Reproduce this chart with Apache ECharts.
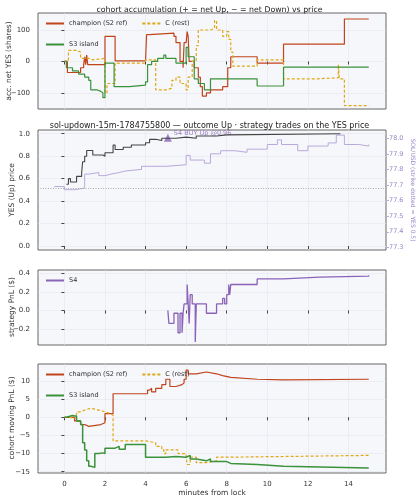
<!DOCTYPE html>
<html>
<head>
<meta charset="utf-8">
<script src="https://cdn.jsdelivr.net/npm/echarts@6/dist/echarts.min.js"></script>
<style>
  html, body { margin: 0; padding: 0; background: #fff; }
  #chart { width: 419px; height: 500px; }
</style>
</head>
<body>
<div id="chart"></div>
<script>
// [minutes from lock, value] step points
const accChampion = [[0,0],[0.15,-35],[0.7,-35],[0.8,-20],[0.95,-10],[1.0,15],[1.05,-10],[1.1,20],[1.15,-10],[2.0,-10],[2.0,80],[2.5,80],[2.5,2],[4.0,5],[4.05,85],[4.2,90],[5.4,90],[5.4,80],[5.5,60],[5.7,0],[5.85,-20],[5.9,60],[6.0,60],[6.05,95],[6.1,80],[6.15,0],[6.4,-20],[6.6,-50],[6.7,-80],[6.8,-110],[7.0,-100],[7.2,-90],[7.8,-80],[8.05,-80],[8.05,-20],[8.2,15],[9.5,15],[9.5,-5],[10.8,-5],[10.8,55],[13.8,55],[13.8,135],[15,135]];
const accS3 = [[0,0],[0.1,-20],[0.4,-30],[0.7,-40],[1.0,-50],[1.2,-60],[1.3,-90],[1.6,-95],[1.8,-100],[1.9,-115],[2.0,-5],[2.45,-5],[2.45,-80],[3.0,-80],[3.2,-75],[4.0,-65],[4.1,-10],[4.3,0],[4.6,10],[4.9,20],[5.0,10],[5.5,-5],[6.0,45],[6.1,15],[6.4,15],[6.4,-55],[6.6,-70],[6.9,-90],[7.2,-55],[9.5,-55],[9.5,-78],[10.8,-78],[10.8,-18],[15,-18]];
const accC = [[0,0],[0.2,35],[0.6,30],[0.8,10],[1.2,5],[1.4,10],[2.0,10],[2.0,-100],[2.1,-70],[2.5,-5],[4.0,5],[4.5,-90],[5.0,-85],[5.3,-60],[5.5,-50],[5.7,-70],[6.0,-90],[6.1,-50],[6.3,0],[6.5,50],[6.6,100],[7.2,105],[7.4,130],[7.5,100],[7.8,80],[8.0,95],[8.1,70],[8.2,30],[8.3,-15],[9.5,-15],[9.5,5],[10.8,5],[10.8,-55],[12.5,-52],[13.5,-55],[13.5,-10],[13.55,-55],[13.8,-55],[13.8,-140],[15,-140]];

const yesPrice = [[0.1,0.55],[0.2,0.6],[0.3,0.57],[0.6,0.62],[0.85,0.65],[0.9,0.75],[1.0,0.8],[1.1,0.85],[1.4,0.81],[1.9,0.8],[2.0,0.83],[2.4,0.9],[2.5,0.86],[2.9,0.88],[3.3,0.9],[4.0,0.92],[4.2,0.95],[4.5,0.94],[4.8,0.96],[5.5,0.97],[6.0,0.96],[6.5,0.98],[7.5,0.99],[8.0,1.0],[13.6,1.0]];
const solPrice = [[-0.5,77.69],[0,77.67],[0.5,77.68],[1.0,77.77],[1.2,77.78],[1.7,77.76],[2.0,77.77],[2.3,77.78],[2.7,77.79],[3.0,77.8],[3.8,77.82],[5.0,77.83],[6.0,77.89],[6.2,77.86],[6.9,77.84],[7.2,77.9],[7.7,77.92],[8.4,77.91],[9.0,77.93],[10.0,77.96],[10.5,77.99],[10.7,77.96],[11.5,77.92],[12.0,77.95],[13.0,77.97],[13.4,78.02],[13.8,77.96],[14.5,77.95],[15,77.96]];
const s4Buy = [[5.1,0.965]];

const s4Pnl = [[5.1,0],[5.15,-0.14],[5.4,-0.03],[5.6,-0.24],[5.7,-0.03],[5.8,-0.24],[5.85,-0.03],[5.9,0.07],[6.05,0.28],[6.1,0.07],[6.15,-0.14],[6.2,0.17],[6.3,0.07],[6.45,-0.34],[6.5,0.07],[7.0,-0.03],[7.5,0.07],[7.8,0.13],[7.9,0.07],[8.0,0.17],[8.1,0.28],[8.15,0.17],[8.2,0.28],[9.5,0.34],[10.8,0.36],[12.6,0.37],[15,0.38]];

const pnlChampion = [[0,0],[0.5,-1],[0.8,-2],[1.0,-2.5],[1.2,-2],[1.8,-1.5],[2.0,1],[2.4,1],[2.4,6.5],[4.0,6.5],[4.1,7.5],[4.2,8],[4.3,7],[4.5,8],[4.8,9],[5.0,10.5],[5.2,8.5],[5.5,9],[5.8,9.5],[5.9,10.5],[6.0,13],[6.1,12],[6.5,12.5],[7.0,12],[7.5,11.5],[7.8,11],[8.2,10.5],[9.5,10.3],[10.8,10.5],[15,10.5]];
const pnlS3 = [[0,0],[0.1,0.5],[0.4,0.3],[0.6,-1],[0.8,-2],[0.9,-7],[1.0,-9],[1.1,-12],[1.2,-13.5],[1.3,-13.8],[1.5,-10],[1.7,-9.8],[1.9,-10],[2.0,-8.5],[2.5,-8],[2.7,-8.8],[3.0,-7.5],[4.0,-7.5],[4.0,-11],[5.0,-10.8],[5.5,-11],[6.0,-10.5],[6.2,-11.5],[6.5,-12],[7.0,-11.5],[7.2,-12.2],[8.0,-12.7],[8.2,-13],[9.5,-13.5],[10.8,-14],[15,-14.1]];
const pnlC = [[0,0],[0.2,-0.3],[0.6,1.5],[0.8,2],[1.0,2.5],[1.3,2],[1.7,1.5],[2.0,1],[2.3,0.5],[2.4,-6.5],[4.0,-7],[4.5,-8],[4.8,-9],[4.9,-10],[5.0,-9],[5.6,-10],[6.0,-11],[6.05,-13],[6.2,-11],[6.5,-12.5],[7.0,-12],[7.5,-11],[8.0,-10.5],[15,-10.5]];

const xTicks = [0, 2, 4, 6, 8, 10, 12, 14];
const solTicks = [77.3, 77.4, 77.5, 77.6, 77.7, 77.8, 77.9, 78.0];

const RED = '#c0441c', GREEN = '#3a923a', GOLD = '#e0a818', PURPLE = '#8a63b8', LAV = '#b9a9dc';
const FONT = 'DejaVu Sans';
const grids = [
  { left: 38, right: 33, top: 13, height: 96 },
  { left: 38, right: 33, top: 130, height: 120 },
  { left: 38, right: 33, top: 270, height: 75 },
  { left: 38, right: 33, top: 364, height: 109 }
].map(g => Object.assign(g, { show: true, backgroundColor: '#f6f7fb', borderColor: '#666', borderWidth: 1,
  containLabel: false, outerBoundsMode: 'none' }));

function xAxis(i, labels) {
  return {
    type: 'value', gridIndex: i, min: -1.3, max: 15.85,
    axisLine: { show: false },
    axisTick: { show: true, length: 3, lineStyle: { color: '#444' }, customValues: xTicks },
    axisLabel: { show: labels, customValues: xTicks, fontFamily: FONT, fontSize: 7, color: '#333' },
    splitLine: { show: true, lineStyle: { color: '#e6e6ee', width: 0.6 } },
    name: labels ? 'minutes from lock' : '', nameLocation: 'middle', nameGap: 14,
    nameTextStyle: { fontFamily: FONT, fontSize: 7.5, color: '#333' }
  };
}
function yAxis(i, min, max, ticks, extra) {
  return Object.assign({
    type: 'value', gridIndex: i, min, max,
    axisLine: { show: false },
    axisTick: { show: true, length: 3, lineStyle: { color: '#444' }, customValues: ticks },
    axisLabel: { customValues: ticks, fontFamily: FONT, fontSize: 7, color: '#333',
      formatter: v => (v < 0 ? '\u2212' + Math.abs(v) : String(v)) },
    splitLine: { show: true, lineStyle: { color: '#e6e6ee', width: 0.6 } }
  }, extra || {});
}
function line(name, data, x, y, color, dashed, width) {
  return {
    name, type: 'line', xAxisIndex: x, yAxisIndex: y, data, step: 'end',
    symbol: 'none', animation: false,
    lineStyle: { color, width: width || 1.2, type: dashed ? [3, 2] : 'solid' },
    itemStyle: { color }
  };
}
function legend(data, left, top, width) {
  return {
    data, left, top, width, orient: 'horizontal', itemWidth: 18, itemHeight: 6, itemGap: 14,
    itemStyle: { opacity: 0 },
    textStyle: { fontFamily: FONT, fontSize: 6.5, color: '#333' }, selectedMode: false
  };
}
// rotated axis title centred at (x, y)
function vText(text, x, y, rot, color, size) {
  return {
    type: 'text', x, y, rotation: rot,
    style: { text, fontFamily: FONT, fontSize: size || 7.5, fill: color || '#333', align: 'center', verticalAlign: 'middle' }
  };
}

const chart = echarts.init(document.getElementById('chart'), null, { renderer: 'canvas' });
chart.setOption({
  animation: false,
  textStyle: { fontFamily: FONT },
  title: [
    { text: 'cohort accumulation (+ = net Up, \u2212 = net Down) vs price', left: 'center', top: 1,
      textStyle: { fontFamily: FONT, fontSize: 7.8, fontWeight: 'normal', color: '#222' } },
    { text: 'sol-updown-15m-1784755800 \u2014 outcome Up \u00b7 strategy trades on the YES price', left: 'center', top: 117,
      textStyle: { fontFamily: FONT, fontSize: 8, fontWeight: 'normal', color: '#222' } }
  ],
  graphic: [
    vText('acc. net YES (shares)', 9, 61, Math.PI / 2),
    vText('YES (Up) price', 12, 190, Math.PI / 2),
    vText('SOL/USD (strike dotted = YES 0.5)', 413, 190, -Math.PI / 2, '#9a88c8', 6),
    vText('strategy PnL ($)', 12, 307, Math.PI / 2),
    vText('cohort moving PnL ($)', 12, 418, Math.PI / 2)
  ],
  grid: grids,
  legend: [
    legend(['champion (S2 ref)', 'C (rest)', 'S3 island'], 40, 15, 170),
    legend(['S4'], 40, 272, 60),
    legend(['champion (S2 ref)', 'C (rest)', 'S3 island'], 40, 366, 170)
  ],
  xAxis: [xAxis(0, false), xAxis(1, false), xAxis(2, false), xAxis(3, true)],
  yAxis: [
    yAxis(0, -151, 154, [-100, 0, 100]),
    yAxis(1, -0.035, 1.033, [0, 0.2, 0.4, 0.6, 0.8, 1.0],
      { axisLabel: { customValues: [0, 0.2, 0.4, 0.6, 0.8, 1.0], fontFamily: FONT, fontSize: 7, color: '#333', formatter: v => v.toFixed(1) } }),
    yAxis(1, 77.283, 78.053, solTicks, {
      position: 'right', splitLine: { show: false },
      axisTick: { show: true, length: 3, lineStyle: { color: LAV }, customValues: solTicks },
      axisLabel: { customValues: solTicks, fontFamily: FONT, fontSize: 6.5, margin: 3, color: '#9a88c8', formatter: v => v.toFixed(1) }
    }),
    yAxis(2, -0.372, 0.436, [-0.2, 0, 0.2, 0.4],
      { axisLabel: { customValues: [-0.2, 0, 0.2, 0.4], fontFamily: FONT, fontSize: 7, color: '#333', formatter: v => (v < 0 ? '\u2212' + Math.abs(v).toFixed(1) : v.toFixed(1)) } }),
    yAxis(3, -15.35, 14.7, [-15, -10, -5, 0, 5, 10])
  ],
  series: [
    line('champion (S2 ref)', accChampion, 0, 0, RED),
    line('C (rest)', accC, 0, 0, GOLD, true),
    line('S3 island', accS3, 0, 0, GREEN),
    Object.assign(line('SOL', solPrice, 1, 2, LAV, false, 1), {
      markLine: { silent: true, symbol: 'none', label: { show: false },
        lineStyle: { color: '#aaa', type: [1, 1.5], width: 1 }, data: [{ yAxis: 77.68 }] } }),
    line('YES', yesPrice, 1, 1, '#444', false, 1.1),
    {
      name: 'S4 BUY', type: 'scatter', xAxisIndex: 1, yAxisIndex: 1, data: s4Buy,
      symbol: 'triangle', symbolSize: 8, itemStyle: { color: PURPLE },
      label: { show: true, position: 'right', distance: 2, formatter: 'S4 BUY Up @0.96',
        fontFamily: FONT, fontSize: 6.5, color: PURPLE, offset: [0, -4] }
    },
    line('S4', s4Pnl, 2, 3, PURPLE, false, 1.3),
    line('champion (S2 ref)', pnlChampion, 3, 4, RED),
    line('C (rest)', pnlC, 3, 4, GOLD, true),
    line('S3 island', pnlS3, 3, 4, GREEN, false, 1.5)
  ]
});
window.addEventListener('resize', () => chart.resize());
</script>
</body>
</html>
